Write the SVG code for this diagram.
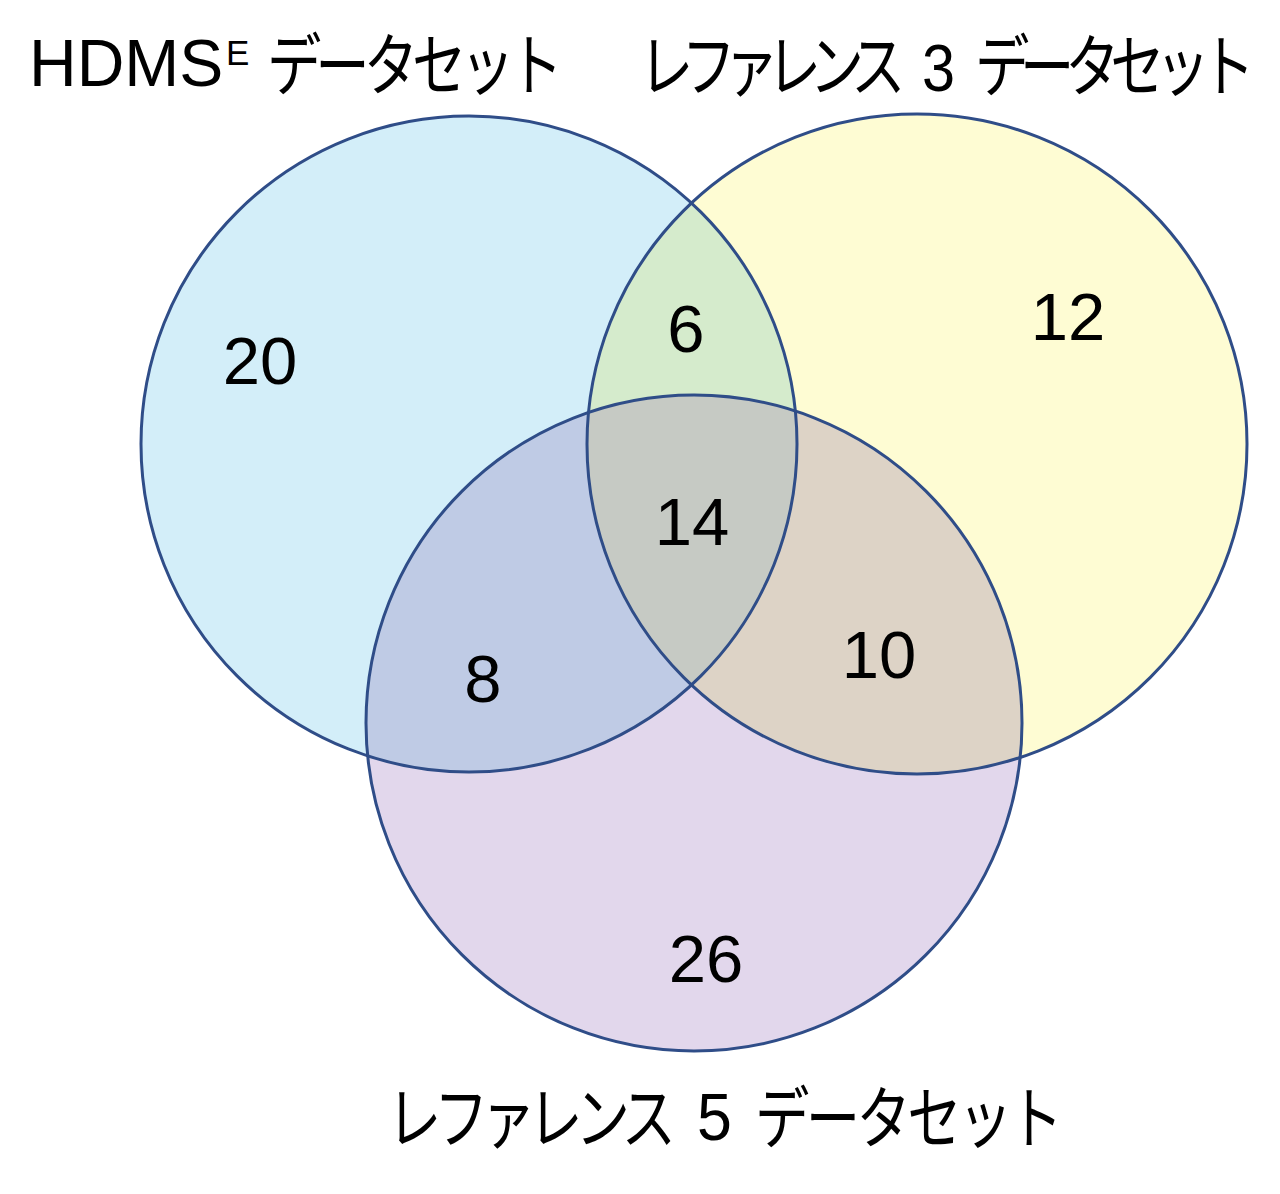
<svg xmlns="http://www.w3.org/2000/svg" width="1280" height="1194" viewBox="0 0 1280 1194">
<style>
.num{font-family:"Liberation Sans",Arial,sans-serif;font-size:67px;fill:#000;text-anchor:middle}
.lat{font-family:"Liberation Sans",Arial,sans-serif;font-size:66px;fill:#000}
.sup{font-family:"Liberation Sans",Arial,sans-serif;font-size:35px;fill:#000}
.jp{font-family:"Noto Sans CJK JP","Liberation Sans",sans-serif;font-size:68px;font-weight:400;fill:#000}
.edge{fill:none;stroke:#2f4d88;stroke-width:3}
</style>
<defs>
<circle id="cA" cx="469" cy="444" r="328"/>
<circle id="cB" cx="917" cy="444" r="330"/>
<circle id="cC" cx="694" cy="723" r="328"/>
<clipPath id="clipA"><use href="#cA"/></clipPath>
<clipPath id="clipB"><use href="#cB"/></clipPath>
<clipPath id="clipC"><use href="#cC"/></clipPath>
</defs>
<rect width="1280" height="1194" fill="#fff"/>
<g id="fills">
<use href="#cA" fill="#d3eef9"/>
<use href="#cB" fill="#fefcd3"/>
<use href="#cC" fill="#e2d7ec"/>
<g clip-path="url(#clipA)"><use href="#cB" fill="#d5ebcc"/></g>
<g clip-path="url(#clipA)"><use href="#cC" fill="#bfcbe5"/></g>
<g clip-path="url(#clipB)"><use href="#cC" fill="#ddd3c6"/></g>
<g clip-path="url(#clipA)"><g clip-path="url(#clipB)"><use href="#cC" fill="#c6cac4"/></g></g>
</g>
<g id="hdmse-set">
<use href="#cA" class="edge"/>
<text class="lat" x="29" y="86">HDMS</text>
<text class="sup" x="226" y="65">E</text>
<text class="jp" transform="translate(267,90) scale(0.8,1)" x="0" y="0" textLength="370" lengthAdjust="spacing">データセット</text>
<text class="num" x="260" y="384">20</text>
</g>
<g id="ref3-set">
<use href="#cB" class="edge"/>
<text class="jp" transform="translate(639,91) scale(0.8,1)" x="0" y="0" textLength="333" lengthAdjust="spacing">レファレンス</text>
<text class="lat" transform="translate(922,91) scale(0.9,1)" x="0" y="0">3</text>
<text class="jp" transform="translate(975,91) scale(0.8,1)" x="0" y="0" textLength="350" lengthAdjust="spacing">データセット</text>
<text class="num" x="1068" y="340">12</text>
</g>
<g id="ref5-set">
<use href="#cC" class="edge"/>
<text class="jp" transform="translate(387,1143) scale(0.8,1)" x="0" y="0" textLength="361" lengthAdjust="spacing">レファレンス</text>
<text class="lat" transform="translate(697,1140) scale(0.95,1)" x="0" y="0">5</text>
<text class="jp" transform="translate(755,1143) scale(0.8,1)" x="0" y="0" textLength="385" lengthAdjust="spacing">データセット</text>
<text class="num" x="706" y="982">26</text>
</g>
<g id="overlaps">
<text class="num" x="686" y="352">6</text>
<text class="num" x="692" y="545">14</text>
<text class="num" x="483" y="702">8</text>
<text class="num" x="879" y="678">10</text>
</g>
</svg>
